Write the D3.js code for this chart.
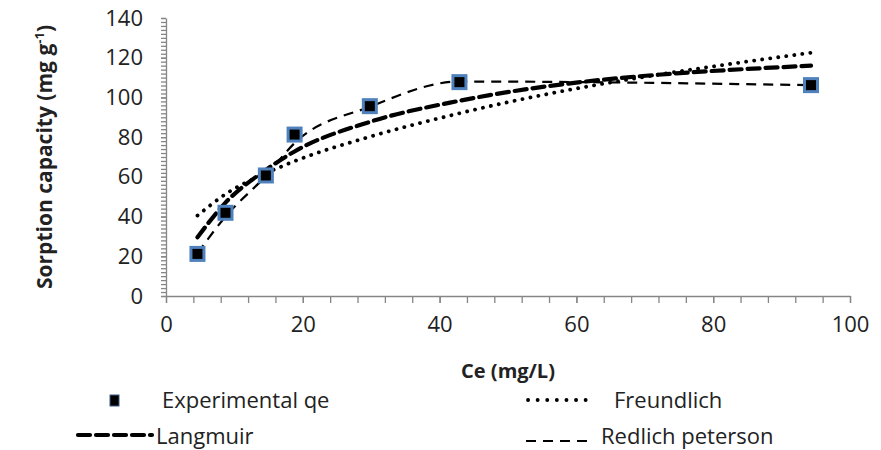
<!DOCTYPE html>
<html>
<head>
<meta charset="utf-8">
<script src="https://cdn.jsdelivr.net/npm/d3@7"></script>
<style>
  body { margin: 0; background: #fff; }
  svg { display: block; }
  text { font-family: "Open Sans", "Liberation Sans", sans-serif; fill: #222; }
</style>
</head>
<body>
<div id="chart"></div>
<script>
// equilibrium concentration (mg/L)
var ce = [4.6, 8.7, 14.6, 18.8, 29.8, 42.9, 94.3];
// measured and fitted sorption capacity (mg/g)
var qeExp      = [21.2, 41.9, 60.7, 81.3, 95.6, 107.7, 106.2];
var langmuir   = [29.6, 47.0, 63.5, 72.8, 87.7, 98.3, 116.0];
var freundlich = [40.5, 51.3, 61.8, 67.9, 80.2, 92.0, 122.5];
var redlich    = [21.5, 40.0, 60.5, 77.0, 95.3, 108.0, 106.2];

var xTicks = [0, 20, 40, 60, 80, 100];
var yTicks = [0, 20, 40, 60, 80, 100, 120, 140];

var w = 881, h = 450;
var axisColor = '#868686';

var svg = d3.select('#chart').append('svg')
	.attr('width', w)
	.attr('height', h);

var x = d3.scaleLinear().domain([0, 100]).range([166, 850]);
var y = d3.scaleLinear().domain([0, 140]).range([296, 18]);

// minor ticks first, then the labelled axes on top
svg.append('g')
	.attr('transform', 'translate(0,' + y(0) + ')')
	.call(d3.axisBottom(x).tickValues(d3.range(0, 101, 4)).tickSize(7).tickFormat(''))
	.call(function(g) { g.select('.domain').remove(); });

svg.append('g')
	.attr('transform', 'translate(' + x(0) + ',0)')
	.call(d3.axisLeft(y).tickValues(d3.range(0, 141, 2)).tickSize(5).tickFormat(''))
	.call(function(g) { g.select('.domain').remove(); });

var xAxis = svg.append('g')
	.attr('transform', 'translate(0,' + y(0) + ')')
	.call(d3.axisBottom(x).tickValues(xTicks).tickSize(7).tickSizeOuter(0).tickPadding(13));

var yAxis = svg.append('g')
	.attr('transform', 'translate(' + x(0) + ',0)')
	.call(d3.axisLeft(y).tickValues(yTicks).tickSize(5).tickSizeOuter(0).tickPadding(18));

svg.selectAll('.tick line, .domain')
	.attr('stroke', axisColor)
	.attr('stroke-width', 1.3);

svg.selectAll('.tick text')
	.style('font-family', '"Open Sans", sans-serif')
	.style('font-size', '22px')
	.attr('fill', '#333');

// axis titles
svg.append('text')
	.attr('x', 508)
	.attr('y', 378)
	.attr('text-anchor', 'middle')
	.style('font-size', '20px')
	.style('font-weight', 'bold')
	.text('Ce (mg/L)');

var yTitle = svg.append('text')
	.attr('transform', 'translate(52,157) rotate(-90)')
	.attr('text-anchor', 'middle')
	.style('font-size', '21px')
	.style('font-weight', 'bold');
yTitle.append('tspan').text('Sorption capacity (mg g');
yTitle.append('tspan').attr('dy', -8).style('font-size', '13px').text('-1');
yTitle.append('tspan').attr('dy', 8).text(')');

// fitted curves, smoothed through the fitted points
var lineFor = function(vals) {
	return d3.line()
		.x(function(d, i) { return x(ce[i]); })
		.y(function(d) { return y(d); })
		.curve(d3.curveMonotoneX)(vals);
};

var series = [
	{ name: 'Freundlich', vals: freundlich, width: 3.8, dash: '0.1 8', cap: 'round' },
	{ name: 'Langmuir', vals: langmuir, width: 4.2, dash: '12 6', cap: 'round' },
	{ name: 'Redlich peterson', vals: redlich, width: 2.2, dash: '10 7', cap: 'butt' }
];

series.forEach(function(s) {
	svg.append('path')
		.attr('d', lineFor(s.vals))
		.attr('fill', 'none')
		.attr('stroke', '#000')
		.attr('stroke-width', s.width)
		.attr('stroke-dasharray', s.dash)
		.attr('stroke-linecap', s.cap);
});

// experimental points
svg.selectAll('rect.pt')
	.data(qeExp)
	.enter()
	.append('rect')
	.attr('class', 'pt')
	.attr('x', function(d, i) { return x(ce[i]) - 6.5; })
	.attr('y', function(d) { return y(d) - 6.5; })
	.attr('width', 13)
	.attr('height', 13)
	.attr('fill', '#000')
	.attr('stroke', '#4F81BD')
	.attr('stroke-width', 3);

// legend
var leg = svg.append('g').style('font-size', '22px');

leg.append('rect')
	.attr('x', 110).attr('y', 395)
	.attr('width', 9).attr('height', 11)
	.attr('fill', '#000')
	.attr('stroke', '#3b5c88')
	.attr('stroke-width', 1);
leg.append('text').attr('x', 162).attr('y', 408).text('Experimental qe');

leg.append('line')
	.attr('x1', 528).attr('x2', 588).attr('y1', 400).attr('y2', 400)
	.attr('stroke', '#000').attr('stroke-width', 3.8)
	.attr('stroke-dasharray', '0.1 9.5').attr('stroke-linecap', 'round');
leg.append('text').attr('x', 614).attr('y', 408).text('Freundlich');

leg.append('line')
	.attr('x1', 78).attr('x2', 152).attr('y1', 435).attr('y2', 435)
	.attr('stroke', '#000').attr('stroke-width', 4.2)
	.attr('stroke-dasharray', '12 6').attr('stroke-linecap', 'round');
leg.append('text').attr('x', 156).attr('y', 444).text('Langmuir');

leg.append('line')
	.attr('x1', 526).attr('x2', 590).attr('y1', 441).attr('y2', 441)
	.attr('stroke', '#000').attr('stroke-width', 2.2)
	.attr('stroke-dasharray', '10 7');
leg.append('text').attr('x', 601).attr('y', 444).text('Redlich peterson');
</script>
</body>
</html>
